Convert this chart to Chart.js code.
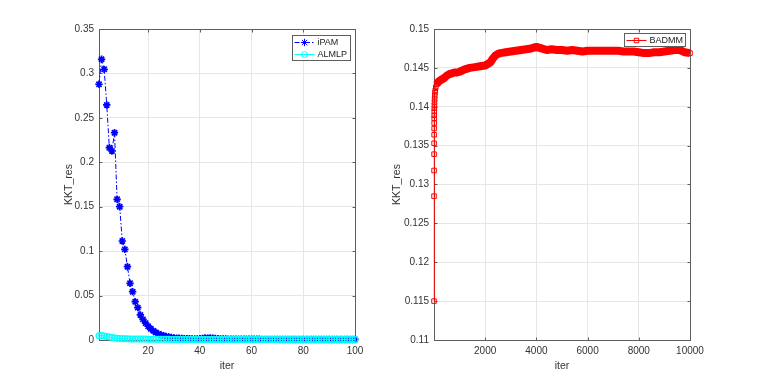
<!DOCTYPE html>
<html>
<head>
<meta charset="utf-8">
<title>KKT_res</title>
<script src="https://cdn.jsdelivr.net/npm/chart.js@4.4.0/dist/chart.umd.min.js"></script>
<style>
  body { margin: 0; background: #fff; }
  #graficoIzq, #graficoDer { position: absolute; top: 0; }
  #graficoIzq { left: 0; }
  #graficoDer { left: 381px; }
</style>
</head>
<body>
<canvas id="graficoIzq" width="381" height="382"></canvas>
<canvas id="graficoDer" width="382" height="382"></canvas>
<script>
// Datos
const resIPAM = [
  0.2878, 0.3159, 0.3046, 0.2645, 0.2164, 0.2127, 0.2333, 0.1583, 0.1500, 0.1114,
  0.1020, 0.0825, 0.0638, 0.0544, 0.0431, 0.0364, 0.0282, 0.0232, 0.0190, 0.0155,
  0.0126, 0.0103, 0.0084, 0.0069, 0.0057, 0.0047, 0.0039, 0.0033, 0.0028, 0.0024,
  0.0021, 0.0019, 0.0017, 0.0016, 0.0015, 0.0014, 0.0013, 0.0013, 0.0013, 0.0015,
  0.0018, 0.0022, 0.0019, 0.0023, 0.0020, 0.0017, 0.0014, 0.0012, 0.0011, 0.0011,
  0.0010, 0.0010, 0.0010, 0.0009, 0.0009, 0.0009, 0.0009, 0.0008, 0.0008, 0.0008,
  0.0008, 0.0008, 0.0008, 0.0007, 0.0007, 0.0007, 0.0007, 0.0007, 0.0007, 0.0007,
  0.0006, 0.0006, 0.0006, 0.0006, 0.0006, 0.0006, 0.0006, 0.0006, 0.0006, 0.0006,
  0.0006, 0.0006, 0.0006, 0.0006, 0.0006, 0.0006, 0.0006, 0.0006, 0.0006, 0.0006,
  0.0006, 0.0006, 0.0006, 0.0006, 0.0006, 0.0006, 0.0006, 0.0006, 0.0006, 0.0006
];
const resALMLP = [
  0.0047, 0.0050, 0.0046, 0.0040, 0.0033, 0.0027, 0.0022, 0.0019, 0.0017, 0.0015,
  0.0014, 0.0013, 0.0012, 0.0012, 0.0011, 0.0011, 0.0010, 0.0010, 0.0010, 0.0009,
  0.0009, 0.0009, 0.0009, 0.0008, 0.0008, 0.0008, 0.0008, 0.0008, 0.0007, 0.0007,
  0.0007, 0.0007, 0.0007, 0.0007, 0.0007, 0.0006, 0.0006, 0.0006, 0.0006, 0.0006,
  0.0006, 0.0006, 0.0006, 0.0006, 0.0006, 0.0006, 0.0006, 0.0006, 0.0006, 0.0006,
  0.0006, 0.0006, 0.0006, 0.0006, 0.0006, 0.0006, 0.0006, 0.0006, 0.0006, 0.0006,
  0.0006, 0.0006, 0.0006, 0.0006, 0.0006, 0.0006, 0.0006, 0.0006, 0.0006, 0.0006,
  0.0006, 0.0006, 0.0006, 0.0006, 0.0006, 0.0006, 0.0006, 0.0006, 0.0006, 0.0006,
  0.0006, 0.0006, 0.0006, 0.0006, 0.0006, 0.0006, 0.0006, 0.0006, 0.0006, 0.0006,
  0.0006, 0.0006, 0.0006, 0.0006, 0.0006, 0.0006, 0.0006, 0.0006, 0.0006, 0.0006
];

const iterBADMM = [
  1, 2, 3, 4, 5, 6, 7, 8, 9, 10, 12, 14, 17, 20, 25, 30, 40, 50, 70, 100,
  150, 200, 300, 400, 500, 600, 700, 800, 900, 1000, 1200, 1400, 1600, 1800, 2000,
  2100, 2200, 2300, 2400, 2500, 2600, 2800, 3000, 3200, 3400, 3600, 3800, 4000,
  4200, 4400, 4600, 4800, 5000, 5200, 5400, 5600, 5800, 6000, 6200, 6400, 6600,
  6800, 7000, 7200, 7400, 7600, 7800, 8000, 8200, 8400, 8600, 8800, 9000, 9200,
  9400, 9600, 9800, 10000
];
const resBADMM = [
  0.1150, 0.1285, 0.1318, 0.1339, 0.1353, 0.1364, 0.1372, 0.1379, 0.1385, 0.1389,
  0.1394, 0.1398, 0.1402, 0.1406, 0.1410, 0.1414, 0.1418, 0.1421, 0.1425, 0.1429,
  0.1431, 0.1433, 0.1435, 0.1437, 0.1440, 0.1442, 0.1443, 0.1444, 0.1444, 0.1445,
  0.1448, 0.1450, 0.1451, 0.1452, 0.1453,
  0.1455, 0.1457, 0.1462, 0.1466, 0.1468, 0.1469, 0.1470, 0.1471, 0.1472, 0.1473,
  0.1474, 0.1475, 0.1477,
  0.1475, 0.1473, 0.1474, 0.1473, 0.1473, 0.1472, 0.1473, 0.1472, 0.1471, 0.1472,
  0.1472, 0.1472, 0.1472, 0.1472, 0.1472, 0.1472, 0.1471, 0.1471, 0.1471, 0.1470,
  0.1469, 0.1469, 0.1470, 0.1470, 0.1471, 0.1472, 0.1473, 0.1473, 0.1470, 0.1469
];

const ticksIterIzq = [20, 40, 60, 80, 100];
const ticksResIzq = [0, 0.05, 0.1, 0.15, 0.2, 0.25, 0.3, 0.35];
const ticksIterDer = [2000, 4000, 6000, 8000, 10000];
const ticksResDer = [0.11, 0.115, 0.12, 0.125, 0.13, 0.135, 0.14, 0.145, 0.15];

const familia = "'Liberation Sans', Arial, Helvetica, sans-serif";

// Marcador simple estilo MATLAB
function dibujarMarcador(ctx, estilo, x, y, r, color) {
  ctx.strokeStyle = color;
  ctx.lineWidth = 1;
  ctx.beginPath();
  if (estilo === 'star') {
    ctx.moveTo(x - r, y); ctx.lineTo(x + r, y);
    ctx.moveTo(x, y - r); ctx.lineTo(x, y + r);
    const d = r * Math.SQRT1_2;
    ctx.moveTo(x - d, y - d); ctx.lineTo(x + d, y + d);
    ctx.moveTo(x - d, y + d); ctx.lineTo(x + d, y - d);
  } else if (estilo === 'rect') {
    const s = r * Math.SQRT1_2;
    ctx.rect(x - s, y - s, 2 * s, 2 * s);
  } else {
    ctx.arc(x, y, r, 0, Math.PI * 2);
  }
  ctx.stroke();
}

// Caja de ejes con marcas hacia dentro
const cajaEjes = {
  id: 'cajaEjes',
  beforeDatasetsDraw(chart) {
    const { ctx, chartArea: a, scales } = chart;
    const l = Math.round(a.left) + 0.5, r = Math.round(a.right) + 0.5;
    const t = Math.round(a.top) + 0.5, b = Math.round(a.bottom) + 0.5;
    ctx.save();
    ctx.strokeStyle = '#5e5e5e';
    ctx.lineWidth = 1;
    ctx.strokeRect(l, t, r - l, b - t);
    ctx.beginPath();
    scales.x.ticks.forEach(tk => {
      const px = Math.round(scales.x.getPixelForValue(tk.value)) + 0.5;
      ctx.moveTo(px, b); ctx.lineTo(px, b - 3);
      ctx.moveTo(px, t); ctx.lineTo(px, t + 3);
    });
    scales.y.ticks.forEach(tk => {
      const py = Math.round(scales.y.getPixelForValue(tk.value)) + 0.5;
      ctx.moveTo(l, py); ctx.lineTo(l + 3, py);
      ctx.moveTo(r, py); ctx.lineTo(r - 3, py);
    });
    ctx.stroke();
    ctx.restore();
  }
};

// Leyenda con recuadro, linea y marcador
const leyendaMatlab = {
  id: 'leyendaMatlab',
  afterDraw(chart, args, opts) {
    const { ctx, chartArea: a } = chart;
    const sets = chart.data.datasets;
    ctx.save();
    ctx.font = '9px ' + familia;
    const anchoTexto = Math.max(...sets.map(d => ctx.measureText(d.label).width));
    const fila = 12;
    const w = Math.round(25 + anchoTexto + 3);
    const h = sets.length * fila + 1;
    const x0 = Math.round(a.right - 5 - w) + 0.5;
    const y0 = Math.round(a.top + (opts.arriba || 5)) + 0.5;
    ctx.fillStyle = '#fff';
    ctx.fillRect(x0, y0, w, h);
    ctx.strokeStyle = '#5e5e5e';
    ctx.lineWidth = 1;
    ctx.strokeRect(x0, y0, w, h);
    sets.forEach((d, i) => {
      const yc = Math.round(y0 + 6 + i * fila) + 0.5;
      ctx.strokeStyle = d.borderColor;
      ctx.lineWidth = 1;
      ctx.setLineDash(d.borderDash || []);
      ctx.beginPath();
      ctx.moveTo(x0 + 2, yc);
      ctx.lineTo(x0 + 22, yc);
      ctx.stroke();
      ctx.setLineDash([]);
      dibujarMarcador(ctx, d.pointStyle, x0 + 12, yc, d.pointRadius, d.borderColor);
      ctx.fillStyle = '#222';
      ctx.textBaseline = 'middle';
      ctx.fillText(d.label, x0 + 25, yc);
    });
    ctx.restore();
  }
};

function crearEscalas(xTicks, yTicks, xMin, xMax, yMin, yMax, anchoY) {
  const fuenteTicks = { family: familia, size: 10 };
  const fuenteTitulo = { family: familia, size: 10.5 };
  return {
    x: {
      type: 'linear', min: xMin, max: xMax,
      afterBuildTicks: s => { s.ticks = xTicks.map(v => ({ value: v })); },
      afterFit: s => { s.height = 32; },
      grid: { color: '#e6e6e6', drawTicks: false },
      border: { display: false },
      ticks: { font: fuenteTicks, color: '#333', padding: 5, maxRotation: 0, autoSkip: false, callback: v => String(v) },
      title: { display: true, text: 'iter', font: fuenteTitulo, color: '#333', padding: 0 }
    },
    y: {
      type: 'linear', min: yMin, max: yMax,
      afterBuildTicks: s => { s.ticks = yTicks.map(v => ({ value: v })); },
      afterFit: s => { s.width = anchoY; },
      grid: { color: '#e6e6e6', drawTicks: false },
      border: { display: false },
      ticks: { font: fuenteTicks, color: '#333', padding: 5, autoSkip: false, callback: v => String(v) },
      title: { display: true, text: 'KKT_res', font: fuenteTitulo, color: '#333', padding: 0 }
    }
  };
}

document.addEventListener("DOMContentLoaded", function () {
  // Grafico izquierdo: iPAM y ALMLP
  new Chart(document.getElementById('graficoIzq'), {
    type: 'line',
    data: {
      datasets: [
        {
          label: 'iPAM',
          data: resIPAM.map((v, i) => ({ x: i + 1, y: v })),
          borderColor: 'rgb(0, 0, 255)',
          borderWidth: 1,
          borderDash: [5, 2, 1.5, 2],
          pointStyle: 'star',
          pointRadius: 3.7,
          pointBorderWidth: 1.7,
          pointBackgroundColor: 'rgb(0, 0, 255)',
          clip: false,
          order: 1
        },
        {
          label: 'ALMLP',
          data: resALMLP.map((v, i) => ({ x: i + 1, y: v })),
          borderColor: 'rgb(0, 255, 255)',
          borderWidth: 1,
          pointStyle: 'circle',
          pointRadius: 2.9,
          pointBorderWidth: 1.2,
          pointBackgroundColor: 'rgba(0, 0, 0, 0)',
          clip: false,
          order: 0
        }
      ]
    },
    options: {
      responsive: false,
      animation: false,
      layout: { padding: { left: 63, right: 26, top: 29, bottom: 10 } },
      scales: crearEscalas(ticksIterIzq, ticksResIzq, 1, 100, 0, 0.35, 36),
      plugins: {
        legend: { display: false },
        tooltip: { enabled: false },
        leyendaMatlab: { arriba: 6 }
      }
    },
    plugins: [cajaEjes, leyendaMatlab]
  });

  // Grafico derecho: BADMM
  new Chart(document.getElementById('graficoDer'), {
    type: 'line',
    data: {
      datasets: [
        {
          label: 'BADMM',
          data: iterBADMM.map((it, i) => ({ x: it, y: resBADMM[i] })),
          borderColor: 'rgb(255, 0, 0)',
          borderWidth: 1,
          borderJoinStyle: 'round',
          segment: { borderWidth: c => c.p0.parsed.x >= 100 ? 8 : 1 },
          pointStyle: 'rect',
          pointRadius: 3.2,
          pointBorderWidth: 1,
          pointBackgroundColor: 'rgba(0, 0, 0, 0)',
          clip: false
        }
      ]
    },
    options: {
      responsive: false,
      animation: false,
      layout: { padding: { left: 10, right: 73, top: 29, bottom: 10 } },
      scales: crearEscalas(ticksIterDer, ticksResDer, 1, 10000, 0.11, 0.15, 43),
      plugins: {
        legend: { display: false },
        tooltip: { enabled: false },
        leyendaMatlab: { arriba: 3.5 }
      }
    },
    plugins: [cajaEjes, leyendaMatlab]
  });
});
</script>
</body>
</html>
